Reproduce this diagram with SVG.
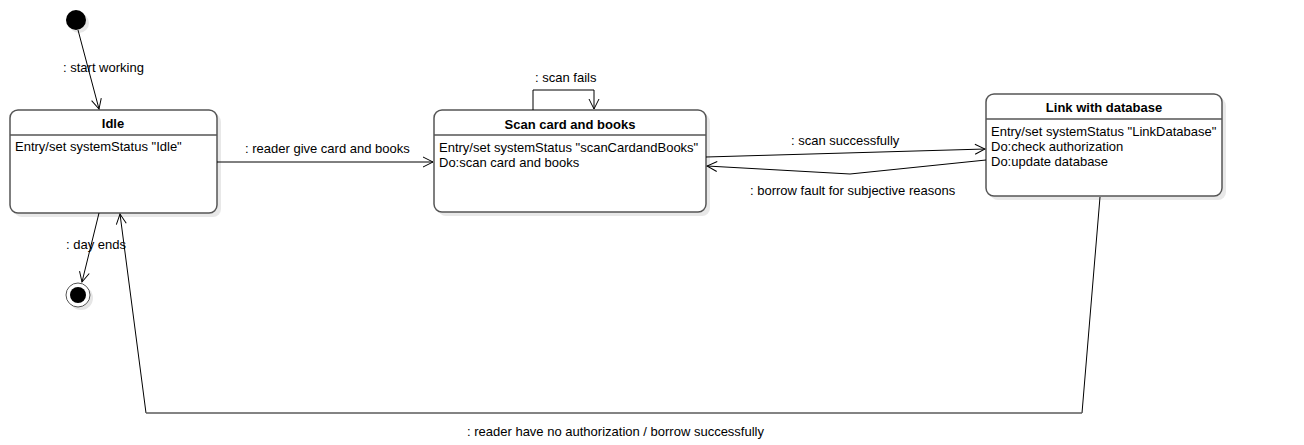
<svg xmlns="http://www.w3.org/2000/svg" width="1304" height="445" viewBox="0 0 1304 445">
<style>
.box{fill:#fff;stroke:#555;stroke-width:1.5}
.shadow{fill:#e8e8e8}
.div{stroke:#555;stroke-width:1.5}
.t{font-family:"Liberation Sans",Arial,sans-serif;font-size:13px;fill:#000}
.title{font-weight:bold;text-anchor:middle}
.edge{fill:none;stroke:#000;stroke-width:1}
.lbl{font-family:"Liberation Sans",Arial,sans-serif;font-size:13px;fill:#000}
</style>
<defs>
<marker id="open" viewBox="0 0 12 12" refX="11" refY="6" markerWidth="12" markerHeight="12" markerUnits="userSpaceOnUse" orient="auto">
<path d="M1,1 L11,6 L1,11" fill="none" stroke="#000" stroke-width="1"/>
</marker>
</defs>
<g id="start">
<circle cx="79" cy="23" r="10" fill="#e6e6e6"/>
<circle cx="76" cy="20" r="10" fill="#000"/>
</g>
<g id="final">
<circle cx="81" cy="298" r="12" fill="#e6e6e6"/>
<circle cx="78" cy="295" r="12" fill="#fff" stroke="#555" stroke-width="1"/>
<circle cx="78" cy="295" r="8" fill="#000"/>
</g>
<g id="idle">
<rect class="shadow" x="14" y="114" width="207" height="103" rx="8"/>
<rect class="box" x="10" y="110" width="207" height="103" rx="8"/>
<line class="div" x1="10" y1="135" x2="217" y2="135"/>
<text class="t title" x="113" y="128">Idle</text>
<text class="t" x="15" y="151">Entry/set systemStatus "Idle"</text>
</g>
<g id="scan">
<rect class="shadow" x="438" y="114" width="272" height="102" rx="8"/>
<rect class="box" x="434" y="110" width="272" height="102" rx="8"/>
<line class="div" x1="434" y1="135" x2="706" y2="135"/>
<text class="t title" x="570" y="129">Scan card and books</text>
<text class="t" x="439" y="152">Entry/set systemStatus "scanCardandBooks"</text>
<text class="t" x="439" y="167">Do:scan card and books</text>
</g>
<g id="link">
<rect class="shadow" x="990" y="98" width="236" height="102" rx="8"/>
<rect class="box" x="986" y="94" width="236" height="102" rx="8"/>
<line class="div" x1="986" y1="119" x2="1222" y2="119"/>
<text class="t title" x="1104" y="112">Link with database</text>
<text class="t" x="991" y="136">Entry/set systemStatus "LinkDatabase"</text>
<text class="t" x="991" y="151">Do:check authorization</text>
<text class="t" x="991" y="166">Do:update database</text>
</g>
<g id="connectors">
<line class="edge" x1="78" y1="30" x2="99" y2="109" marker-end="url(#open)"/>
<text class="lbl" x="63" y="72">: start working</text>
<line class="edge" x1="99" y1="213" x2="82" y2="282" marker-end="url(#open)"/>
<text class="lbl" x="66" y="249">: day ends</text>
<line class="edge" x1="217" y1="162" x2="433" y2="162" marker-end="url(#open)"/>
<text class="lbl" x="245" y="153">: reader give card and books</text>
<polyline class="edge" points="533,110 533,90 594,90 594,109" marker-end="url(#open)"/>
<text class="lbl" x="535" y="82">: scan fails</text>
<line class="edge" x1="706" y1="157" x2="985" y2="149" marker-end="url(#open)"/>
<text class="lbl" x="791" y="145">: scan successfully</text>
<polyline class="edge" points="986,160 850,174 707,166" marker-end="url(#open)"/>
<text class="lbl" x="750" y="195">: borrow fault for subjective reasons</text>
<polyline class="edge" points="1100,197 1082,413 146,413 120,214" marker-end="url(#open)"/>
<line x1="146" y1="413" x2="1082" y2="413" stroke="#888" stroke-width="1"/>
<text class="lbl" x="467" y="436">: reader have no authorization / borrow successfully</text>
</g>
</svg>
